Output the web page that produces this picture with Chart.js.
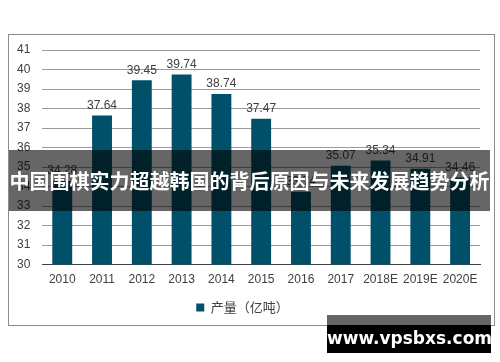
<html>
<head>
    <meta charset="utf-8">
    <title>产量（亿吨）</title>
    <script src="https://cdn.jsdelivr.net/npm/chart.js"></script>
    <style>
        body { margin: 0; background: #fff; width: 500px; height: 362px; position: relative; overflow: hidden; }
        #chartBox { position: absolute; left: 0; top: 0; width: 500px; height: 362px; }
        .frame { position: absolute; left: 8px; top: 34px; width: 485px; height: 290px; border: 1px solid #8c8c8c; }
        .banner { position: absolute; left: 9px; top: 150px; width: 481px; height: 61px; background: rgba(0,0,0,0.6);
            color: #fff; font-family: "Noto Sans CJK SC", sans-serif; font-weight: bold; font-size: 20px;
            line-height: 61px; text-align: center; white-space: nowrap; }
        .markTop { position: absolute; left: 327px; top: 315px; width: 164px; height: 10px; background: rgba(0,0,0,0.6); }
        .mark { position: absolute; left: 327px; top: 325px; width: 164px; height: 28px; background: #000;
            color: #fff; font-family: "DejaVu Sans", sans-serif; font-weight: bold; font-size: 17px;
            line-height: 26px; text-align: center; }
    </style>
</head>
<body>
    <div class="frame"></div>
    <div id="chartBox"><canvas id="barChart" width="500" height="362"></canvas></div>
    <div class="banner">中国围棋实力超越韩国的背后原因与未来发展趋势分析</div>
    <div class="markTop"></div>
    <div class="mark">www.vpsbxs.com</div>

    <script type="text/javascript" charset="utf-8">
        var years = ["2010", "2011", "2012", "2013", "2014", "2015", "2016", "2017", "2018E", "2019E", "2020E"];
        var output = [34.28, 37.64, 39.45, 39.74, 38.74, 37.47, 33.74, 35.07, 35.34, 34.91, 34.46];
        var yTicks = [30, 31, 32, 33, 34, 35, 36, 37, 38, 39, 40, 41];
        var seriesName = "产量（亿吨）";

        var textColor = "#404040";
        var barColor = "#01506a";

        // value labels above each bar
        const valueLabels = {
            id: 'valueLabels',
            afterDatasetsDraw(chart) {
                const ctx = chart.ctx;
                const meta = chart.getDatasetMeta(0);
                ctx.save();
                ctx.font = '12px "Liberation Sans", Arial, sans-serif';
                ctx.fillStyle = textColor;
                ctx.textAlign = 'center';
                ctx.textBaseline = 'bottom';
                meta.data.forEach(function (bar, i) {
                    ctx.fillText(output[i].toFixed(2), bar.x, bar.y - 4);
                });
                ctx.restore();
            }
        };

        const chart = new Chart(document.getElementById('barChart'), {
            type: 'bar',
            data: {
                labels: years,
                datasets: [{
                    label: seriesName,
                    data: output,
                    backgroundColor: barColor,
                    categoryPercentage: 1.0,
                    barPercentage: 0.5
                }]
            },
            options: {
                responsive: false,
                animation: false,
                layout: { padding: { left: 5, right: 20, top: 50, bottom: 38 } },
                plugins: {
                    tooltip: { enabled: false },
                    legend: {
                        position: 'bottom',
                        labels: {
                            boxWidth: 8,
                            boxHeight: 8,
                            padding: 6,
                            color: textColor,
                            font: { size: 13, family: '"Noto Sans CJK SC", sans-serif' }
                        }
                    }
                },
                scales: {
                    x: {
                        grid: { display: false, drawTicks: false },
                        border: { color: '#404040' },
                        ticks: {
                            padding: 8,
                            color: textColor,
                            font: { size: 12, family: '"Liberation Sans", Arial, sans-serif' },
                            maxRotation: 0,
                            autoSkip: false
                        }
                    },
                    y: {
                        min: 30,
                        max: 41,
                        afterBuildTicks: function (axis) {
                            axis.ticks = yTicks.map(function (v) { return { value: v }; });
                        },
                        grid: { color: '#9a9a9a', drawTicks: false },
                        border: { display: false },
                        ticks: {
                            padding: 12,
                            color: textColor,
                            font: { size: 12, family: '"Liberation Sans", Arial, sans-serif' }
                        }
                    }
                }
            },
            plugins: [valueLabels]
        });
    </script>
</body>
</html>
